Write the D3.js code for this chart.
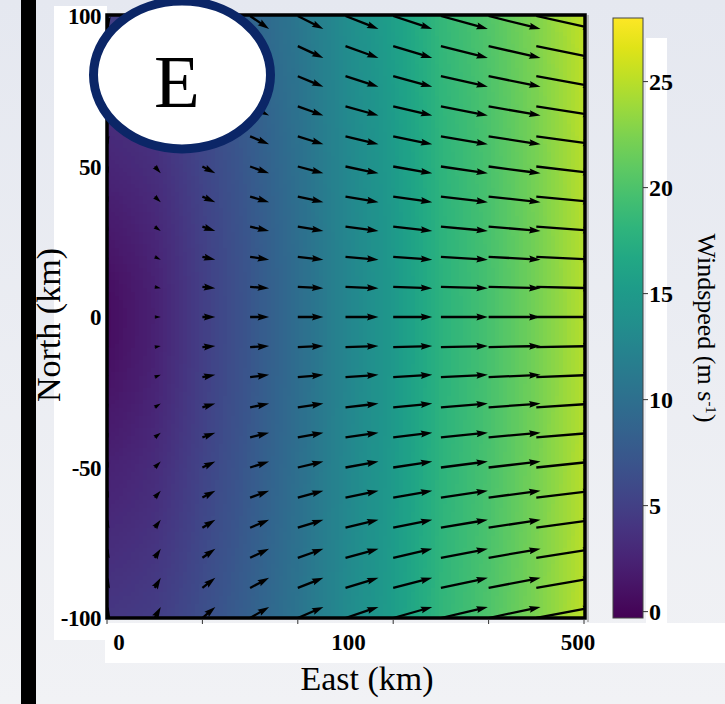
<!DOCTYPE html>
<html lang="en">
<head>
<meta charset="UTF-8">
<title>Windspeed E</title>
<style>
    * { margin: 0; padding: 0; }
    html, body { width: 725px; height: 704px; overflow: hidden; background: #e9ebf1; }
    svg { display: block; font-family: "Liberation Serif", "Times New Roman", serif; }
    .tick-label { font-weight: bold; font-size: 23px; fill: #000; }
    .axis-title { font-size: 34px; fill: #000; }
</style>
</head>
<body>
<div id="chart"></div>
<script src="https://cdn.jsdelivr.net/npm/d3@7/dist/d3.min.js"></script>
<script>
    /* grid of the wind vectors */
    var eastKm = [0, 50, 100, 150, 200, 250, 300, 350, 400, 450, 500];
    var northKm = [100, 90, 80, 70, 60, 50, 40, 30, 20, 10, 0, -10, -20, -30, -40, -50, -60, -70, -80, -90, -100];
    /* eastward wind per column, northward wind per row (m/s) */
    var uByColumn = [0.6, 2.3, 4.9, 7.2, 9.7, 12.5, 14.8, 17.8, 19.7, 22.0, 24.8];
    var vByRow = [-4.9, -4.5, -4.0, -3.5, -3.0, -2.6, -2.1, -1.6, -1.1, -0.5, 0, 0.4, 0.9, 1.4, 1.8, 2.3, 2.6, 3.0, 3.4, 3.8, 4.2];
    /* ticks */
    var xTickMarks = [0, 100, 200, 300, 400, 500];
    var xTickLabels = ["0", "100", "500"];
    var yTickLabels = [100, 50, 0, -50, -100];
    var colorTicks = [0, 5, 10, 15, 20, 25];
    var speedRange = [-0.3, 28];

    var W = 725, H = 704;
    var plot = {left: 107, right: 584, top: 16, bottom: 618};

    var svg = d3.select("#chart").append("svg")
        .attr("width", W)
        .attr("height", H);

    var defs = svg.append("defs");

    /* background */
    var bg = defs.append("linearGradient").attr("id", "bgGrad")
        .attr("x1", 0).attr("y1", 0).attr("x2", 0).attr("y2", 1);
    bg.append("stop").attr("offset", "0%").attr("stop-color", "#e5e8f0");
    bg.append("stop").attr("offset", "100%").attr("stop-color", "#f1f2f5");
    svg.append("rect").attr("width", W).attr("height", H).attr("fill", "url(#bgGrad)");

    /* black bar on the left */
    svg.append("rect").attr("x", 21).attr("y", 0).attr("width", 15).attr("height", H).attr("fill", "#000");

    /* white label panels */
    svg.append("rect").attr("x", 54).attr("y", 6).attr("width", 53).attr("height", 634).attr("fill", "#fff");
    svg.append("rect").attr("x", 105).attr("y", 623).attr("width", W - 105).attr("height", 40).attr("fill", "#fff");
    svg.append("rect").attr("x", 646).attr("y", 38).attr("width", 21).attr("height", 587).attr("fill", "#fff");

    /* scales */
    var xScale = d3.scaleLinear().domain([0, 500]).range([plot.left, plot.right]);
    var yScale = d3.scaleLinear().domain([-100, 100]).range([plot.bottom, plot.top]);
    var uScale = d3.scaleLinear().domain(eastKm).range(uByColumn);
    var vScale = d3.scaleLinear().domain(northKm).range(vByRow);
    var colorScale = d3.scaleSequential(d3.interpolateViridis).domain(speedRange);

    defs.append("clipPath").attr("id", "plotClip")
        .append("rect")
        .attr("x", plot.left).attr("y", plot.top)
        .attr("width", plot.right - plot.left + 1).attr("height", plot.bottom - plot.top);

    var plotG = svg.append("g").attr("clip-path", "url(#plotClip)");

    /* windspeed field */
    var cell = 4;
    var cells = [];
    for (var px = plot.left; px < plot.right + 1; px += cell) {
        for (var py = plot.top; py < plot.bottom; py += cell) {
            var e = xScale.invert(Math.min(px + cell / 2, plot.right));
            var n = yScale.invert(py + cell / 2);
            var u = uScale(e), v = vScale(n);
            cells.push({x: px, y: py, s: Math.sqrt(u * u + v * v)});
        }
    }
    plotG.append("g")
        .attr("shape-rendering", "crispEdges")
        .selectAll("rect")
        .data(cells)
        .enter()
        .append("rect")
        .attr("x", function (d) { return d.x; })
        .attr("y", function (d) { return d.y; })
        .attr("width", cell + 0.5)
        .attr("height", cell + 0.5)
        .attr("fill", function (d) { return colorScale(d.s); });

    /* quiver arrows, tail at the grid point */
    var pxPerMs = 2.64;
    var shaft = 2.3;
    function arrowPath(L) {
        var hl = 5 * shaft, hal = 4.5 * shaft, hw = 1.5 * shaft, hs = shaft / 2;
        if (L < hl) {
            var s = L / hl;
            hl *= s; hal *= s; hw *= s; hs *= s;
        }
        var pts = [[0, -hs], [L - hal, -hs], [L - hl, -hw], [L, 0], [L - hl, hw], [L - hal, hs], [0, hs]];
        return "M" + pts.map(function (p) { return p[0].toFixed(2) + "," + p[1].toFixed(2); }).join("L") + "Z";
    }
    var vectors = [];
    northKm.forEach(function (n, j) {
        eastKm.forEach(function (e, i) {
            vectors.push({e: e, n: n, u: uByColumn[i], v: vByRow[j]});
        });
    });
    plotG.append("g")
        .selectAll("path")
        .data(vectors)
        .enter()
        .append("path")
        .attr("d", function (d) {
            return arrowPath(Math.sqrt(d.u * d.u + d.v * d.v) * pxPerMs);
        })
        .attr("transform", function (d) {
            var ang = Math.atan2(-d.v, d.u) * 180 / Math.PI;
            return "translate(" + xScale(d.e) + "," + yScale(d.n) + ") rotate(" + ang + ")";
        })
        .attr("fill", "#000");

    /* frame */
    svg.append("line")
        .attr("x1", plot.right + 4).attr("x2", plot.right + 4)
        .attr("y1", plot.top - 1).attr("y2", plot.bottom + 4)
        .attr("stroke", "#aaa").attr("stroke-width", 1.5);
    svg.append("rect")
        .attr("x", plot.left).attr("y", plot.top - 1)
        .attr("width", plot.right - plot.left + 1).attr("height", plot.bottom - plot.top + 1)
        .attr("fill", "none").attr("stroke", "#000").attr("stroke-width", 3.5);

    /* x tick marks */
    svg.append("g").selectAll("line")
        .data(xTickMarks)
        .enter()
        .append("line")
        .attr("x1", function (d) { return xScale(d); })
        .attr("x2", function (d) { return xScale(d); })
        .attr("y1", plot.bottom + 2)
        .attr("y2", plot.bottom + 6)
        .attr("stroke", "#333").attr("stroke-width", 1);

    /* x tick labels */
    var xLabelScale = d3.scalePoint().domain(xTickLabels).range([119, 578]);
    svg.append("g").selectAll("text")
        .data(xTickLabels)
        .enter()
        .append("text")
        .attr("class", "tick-label")
        .attr("x", function (d) { return xLabelScale(d); })
        .attr("y", 650)
        .attr("text-anchor", "middle")
        .text(function (d) { return d; });

    /* y tick labels */
    svg.append("g").selectAll("text")
        .data(yTickLabels)
        .enter()
        .append("text")
        .attr("class", "tick-label")
        .attr("x", 101)
        .attr("y", function (d) { return yScale(d); })
        .attr("dy", "0.35em")
        .attr("text-anchor", "end")
        .style("letter-spacing", "-0.5px")
        .text(function (d) { return d; });

    /* axis titles */
    svg.append("text")
        .attr("class", "axis-title")
        .attr("x", 367).attr("y", 690)
        .attr("text-anchor", "middle")
        .text("East (km)");
    svg.append("text")
        .attr("class", "axis-title")
        .attr("transform", "translate(60,325) rotate(-90)")
        .attr("text-anchor", "middle")
        .text("North (km)");

    /* colorbar */
    var cb = {x: 613, w: 30, top: 18, bottom: 618};
    var cbScale = d3.scaleLinear().domain(speedRange).range([cb.bottom, cb.top]);
    var cbGrad = defs.append("linearGradient").attr("id", "cbGrad")
        .attr("x1", 0).attr("y1", 1).attr("x2", 0).attr("y2", 0);
    d3.range(0, 1.0001, 0.05).forEach(function (t) {
        cbGrad.append("stop")
            .attr("offset", (t * 100) + "%")
            .attr("stop-color", d3.interpolateViridis(t));
    });
    svg.append("rect")
        .attr("x", cb.x).attr("y", cb.top)
        .attr("width", cb.w).attr("height", cb.bottom - cb.top)
        .attr("fill", "url(#cbGrad)")
        .attr("stroke", "#444").attr("stroke-width", 1);
    var cbTicks = svg.append("g").selectAll("g")
        .data(colorTicks)
        .enter()
        .append("g")
        .attr("transform", function (d) { return "translate(0," + cbScale(d) + ")"; });
    cbTicks.append("line")
        .attr("x1", cb.x + cb.w).attr("x2", cb.x + cb.w + 5)
        .attr("stroke", "#333").attr("stroke-width", 1);
    cbTicks.append("text")
        .attr("class", "tick-label")
        .attr("x", cb.x + cb.w + 6)
        .attr("dy", "0.35em")
        .style("font-size", "24px")
        .text(function (d) { return d; });

    var cbTitle = svg.append("text")
        .attr("transform", "translate(698,328) rotate(90)")
        .attr("text-anchor", "middle")
        .style("font-size", "26px");
    cbTitle.append("tspan").text("Windspeed (m s");
    cbTitle.append("tspan").attr("baseline-shift", "super").style("font-size", "15px").text("-1");
    cbTitle.append("tspan").text(")");

    /* panel label */
    svg.append("ellipse")
        .attr("cx", 182).attr("cy", 75)
        .attr("rx", 88.5).attr("ry", 74)
        .attr("fill", "#fff")
        .attr("stroke", "#0b2667").attr("stroke-width", 9);
    svg.append("text")
        .attr("x", 177).attr("y", 107)
        .attr("text-anchor", "middle")
        .style("font-size", "75px")
        .text("E");
</script>
</body>
</html>
